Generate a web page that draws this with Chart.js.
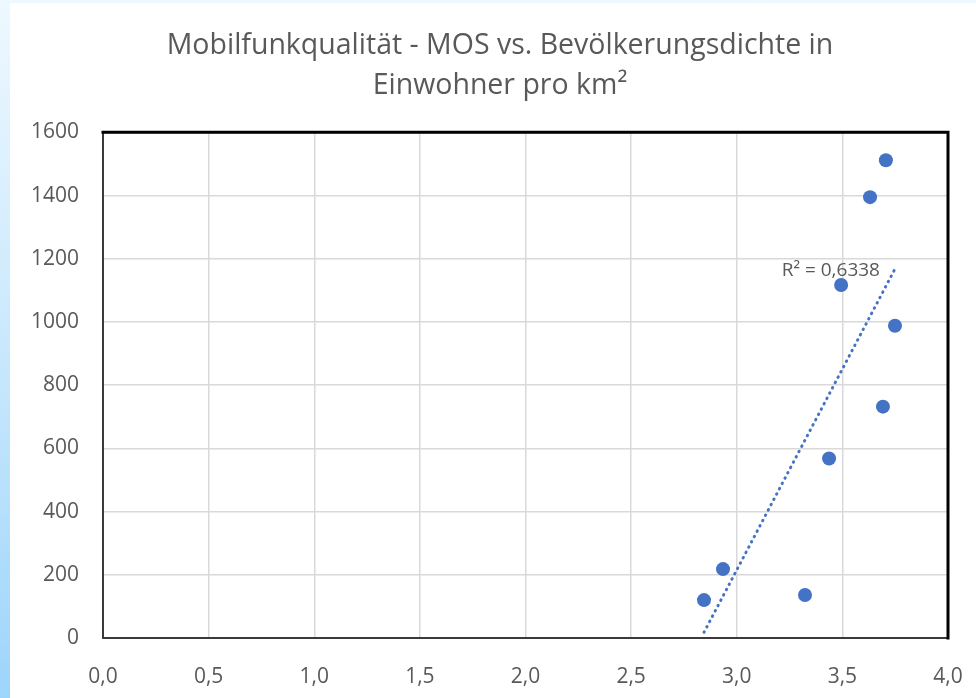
<!DOCTYPE html>
<html>
<head>
<meta charset="utf-8">
<script src="https://cdn.jsdelivr.net/npm/chart.js@4.4.0/dist/chart.umd.min.js"></script>
<style>
  html, body { margin: 0; padding: 0; width: 976px; height: 698px; overflow: hidden;
    background: linear-gradient(to bottom, #eef8ff 0%, #c9e8fd 50%, #9ed5fb 100%); }
  #wrap { position: absolute; left: 10px; top: 3px; width: 966px; height: 695px; background: #ffffff; }
  canvas { display: block; }
</style>
</head>
<body>
<div id="wrap"><canvas id="c" width="966" height="695"></canvas></div>
<script>
// Data
const mosValues = [3.706, 3.631, 3.494, 3.749, 3.692, 3.437, 2.935, 2.845, 3.323];
const densityValues = [1512, 1395, 1117, 988, 732, 568, 218, 120, 136];
const titleLines = ['Mobilfunkqualität - MOS vs. Bevölkerungsdichte in', 'Einwohner pro km²'];
const r2Label = 'R² = 0,6338';
const xMin = 0, xMax = 4, xStep = 0.5;
const yMin = 0, yMax = 1600, yStep = 200;

// Linear least-squares trendline (as Excel's linear trendline)
const n = mosValues.length;
const mx = mosValues.reduce((a, b) => a + b, 0) / n;
const my = densityValues.reduce((a, b) => a + b, 0) / n;
let sxy = 0, sxx = 0;
for (let i = 0; i < n; i++) { sxy += (mosValues[i] - mx) * (densityValues[i] - my); sxx += (mosValues[i] - mx) ** 2; }
const slope = sxy / sxx, intercept = my - slope * mx;
const tx0 = Math.min(...mosValues), tx1 = Math.max(...mosValues);
const trendPoints = [{x: tx0, y: intercept + slope * tx0}, {x: tx1, y: intercept + slope * tx1}];

const points = mosValues.map((x, i) => ({x, y: densityValues[i]}));
const FONT = "'Open Sans', 'Liberation Sans', sans-serif";
const BLUE = '#4472C4';
const TEXT = '#595959';

const framePlugin = {
  id: 'frame',
  afterDatasetsDraw(chart) {
    const {ctx, chartArea: a} = chart;
    ctx.save();
    ctx.lineCap = 'square';
    ctx.strokeStyle = '#3a3a3a';
    ctx.lineWidth = 2;
    ctx.beginPath();
    ctx.moveTo(a.left, a.top); ctx.lineTo(a.left, a.bottom); ctx.lineTo(a.right, a.bottom);
    ctx.stroke();
    ctx.strokeStyle = '#000000';
    ctx.lineWidth = 3;
    ctx.beginPath();
    ctx.moveTo(a.left, a.top); ctx.lineTo(a.right, a.top); ctx.lineTo(a.right, a.bottom);
    ctx.stroke();
    const xs = chart.scales.x, ys = chart.scales.y;
    const ex = xs.getPixelForValue(trendPoints[1].x), ey = ys.getPixelForValue(trendPoints[1].y);
    ctx.fillStyle = TEXT;
    ctx.font = "19px " + FONT;
    ctx.textAlign = 'right';
    ctx.textBaseline = 'middle';
    ctx.fillText(r2Label, ex - 15, ey + 2);
    ctx.restore();
  }
};

new Chart(document.getElementById('c'), {
  type: 'scatter',
  data: {
    datasets: [
      {
        label: 'Daten',
        data: points,
        backgroundColor: BLUE,
        borderColor: BLUE,
        pointRadius: 7,
        pointHoverRadius: 7,
        borderWidth: 0,
        order: 1
      },
      {
        label: 'Trend',
        data: trendPoints,
        showLine: true,
        borderColor: BLUE,
        borderWidth: 3,
        borderDash: [0.5, 5.5],
        borderCapStyle: 'round',
        pointRadius: 0,
        fill: false,
        order: 2
      }
    ]
  },
  options: {
    responsive: false,
    animation: false,
    events: [],
    layout: { padding: { left: 14, right: 0, top: 0, bottom: 0 } },
    plugins: {
      legend: { display: false },
      tooltip: { enabled: false },
      title: {
        display: true,
        text: titleLines,
        color: TEXT,
        font: { family: FONT, size: 28.5, weight: 'normal', lineHeight: 1.41 },
        padding: { top: 23, bottom: 26 }
      }
    },
    scales: {
      x: {
        type: 'linear',
        min: xMin, max: xMax,
        ticks: {
          stepSize: xStep,
          color: TEXT,
          font: { family: FONT, size: 21 },
          padding: 26,
          maxRotation: 0,
          callback: v => v.toFixed(1).replace('.', ',')
        },
        grid: { color: '#d9d9d9', lineWidth: 1.5, drawTicks: false },
        border: { display: false },
        afterFit(s) { s.height = 60; s.paddingRight = 28; s.paddingLeft = 0; }
      },
      y: {
        type: 'linear',
        min: yMin, max: yMax,
        ticks: {
          stepSize: yStep,
          color: TEXT,
          font: { family: FONT, size: 21 },
          padding: 24,
          callback: v => String(v)
        },
        grid: { color: '#d9d9d9', lineWidth: 1.5, drawTicks: false },
        border: { display: false },
        afterFit(s) { s.width = 79; }
      }
    }
  },
  plugins: [framePlugin]
});
</script>
</body>
</html>
